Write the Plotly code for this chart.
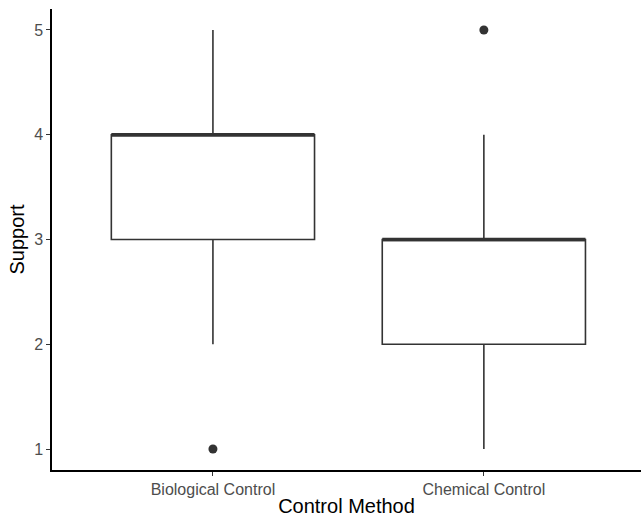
import plotly.graph_objects as go

categories = ["Biological Control", "Chemical Control"]
q1 = [3, 2]
median = [4, 3]
q3 = [4, 3]
lower_fence = [2, 1]
upper_fence = [5, 4]
outliers = [[1], [5]]
y_ticks = [1, 2, 3, 4, 5]

positions = [i + 1 for i in range(len(categories))]
box_w = 0.75
ink = "#333333"

fig = go.Figure()
fig.add_trace(go.Box(
    x=positions, q1=q1, median=median, q3=q3,
    lowerfence=lower_fence, upperfence=upper_fence,
    width=box_w, whiskerwidth=0,
    line=dict(color=ink, width=1.6),
    fillcolor="white", boxpoints=False, hoverinfo="skip",
    showlegend=False,
))
for p, m in zip(positions, median):
    fig.add_trace(go.Scatter(
        x=[p - box_w / 2, p + box_w / 2], y=[m, m], mode="lines",
        line=dict(color=ink, width=3.4), showlegend=False, hoverinfo="skip",
    ))
ox, oy = [], []
for p, outs in zip(positions, outliers):
    for o in outs:
        ox.append(p)
        oy.append(o)
fig.add_trace(go.Scatter(
    x=ox, y=oy, mode="markers",
    marker=dict(color=ink, size=9), showlegend=False, hoverinfo="skip",
))

fig.update_layout(
    width=641, height=518,
    margin=dict(l=52, r=0, t=9, b=48),
    paper_bgcolor="white", plot_bgcolor="white",
    font=dict(family="Liberation Sans, Arial, sans-serif", color="black"),
    xaxis=dict(
        range=[0.406, 2.58], tickvals=positions, ticktext=categories,
        showline=True, linecolor="black", linewidth=1.5,
        ticks="outside", ticklen=4, tickcolor="#333333", tickwidth=1,
        tickfont=dict(size=16, color="#4D4D4D"),
        showgrid=False, zeroline=False, automargin=False,
        title=dict(text="Control Method", font=dict(size=20, color="black"), standoff=2),
    ),
    yaxis=dict(
        range=[0.8, 5.2], tickvals=y_ticks,
        showline=True, linecolor="black", linewidth=1.5,
        ticks="outside", ticklen=4, tickcolor="#333333", tickwidth=1,
        tickfont=dict(size=16, color="#4D4D4D"),
        showgrid=False, zeroline=False, automargin=False,
        title=dict(text="Support", font=dict(size=20, color="black"), standoff=4),
    ),
)

fig.write_html("out.html", config={"displayModeBar": False},
               post_script="document.body.style.margin='0';")
